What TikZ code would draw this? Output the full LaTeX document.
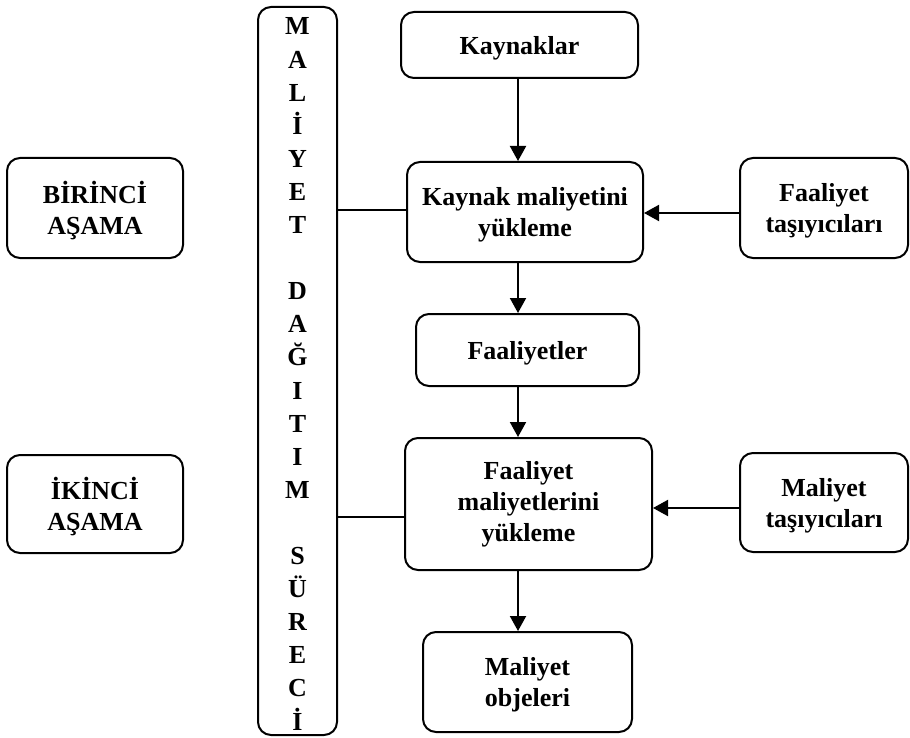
\documentclass[tikz,border=0pt]{standalone}
\usepackage{fontspec}
\setmainfont{Liberation Serif}
\usetikzlibrary{arrows.meta}
\begin{document}
\begin{tikzpicture}[x=1pt,y=-1pt,
  box/.style={draw, line width=2pt, rounded corners=13pt, align=center, inner sep=0pt,
              font=\fontsize{26}{31}\selectfont\bfseries},
  lower/.style={text depth=#1},
  arr/.style={line width=2pt, -{Triangle[length=15pt,width=16pt]}},
  ln/.style={line width=2pt}]
\useasboundingbox (0,0) rectangle (910,738);

\node[box, minimum width=79pt, minimum height=728pt] (tall) at (297.5,371) {};
\node[font=\fontsize{26}{33.1}\selectfont\bfseries, align=center, inner sep=0pt] (talltext) at (297.5,374)
  {M\\A\\L\\İ\\Y\\E\\T\\~\\D\\A\\Ğ\\I\\T\\I\\M\\~\\S\\Ü\\R\\E\\C\\İ};

\node[box, lower=-2pt, minimum width=237pt, minimum height=66pt] (kay) at (519.5,45) {Kaynaklar};
\node[box, lower=-5pt, minimum width=236pt, minimum height=100pt] (kml) at (525,212) {Kaynak maliyetini\\yükleme};
\node[box, lower=-5pt, minimum width=168pt, minimum height=100pt] (ft) at (824,208) {Faaliyet\\taşıyıcıları};
\node[box, lower=-1pt, minimum width=223pt, minimum height=72pt] (fl) at (527.5,350) {Faaliyetler};
\node[box, minimum width=247pt, minimum height=132pt] (fml) at (528.5,504) {Faaliyet\\maliyetlerini\\yükleme};
\node[box, lower=-2pt, minimum width=168pt, minimum height=99pt] (mt) at (824,502.5) {Maliyet\\taşıyıcıları};
\node[box, lower=-2pt, minimum width=209pt, minimum height=100pt] (mo) at (527.5,682) {Maliyet\\objeleri};
\node[box, lower=-10pt, minimum width=176pt, minimum height=100pt] (bir) at (95,208) {BİRİNCİ\\AŞAMA};
\node[box, lower=-10pt, minimum width=176pt, minimum height=98pt] (iki) at (95,504) {İKİNCİ\\AŞAMA};

\coordinate (ax) at (518,0);
\draw[arr] (kay.south -| ax) -- (kml.north -| ax);
\draw[arr] (kml.south -| ax) -- (fl.north -| ax);
\draw[arr] (fl.south -| ax) -- (fml.north -| ax);
\draw[arr] (fml.south -| ax) -- (mo.north -| ax);

\draw[arr] ([yshift=-5pt]ft.west) -- ([yshift=-5pt]ft.west -| kml.east);
\draw[arr] ([yshift=-5.5pt]mt.west) -- ([yshift=-5.5pt]mt.west -| fml.east);

\draw[ln] ([yshift=2pt]kml.west) -- ([yshift=2pt]kml.west -| tall.east);
\draw[ln] ([yshift=-13pt]fml.west) -- ([yshift=-13pt]fml.west -| tall.east);
\end{tikzpicture}
\end{document}
